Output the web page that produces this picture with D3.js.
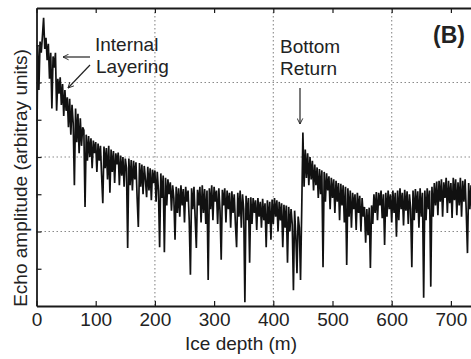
<!DOCTYPE html>
<html>
<head>
<meta charset="utf-8">
<script src="https://cdn.jsdelivr.net/npm/d3@7"></script>
<style>
  body { margin: 0; background: #fff; }
  svg { display: block; font-family: "Liberation Sans", Arial, sans-serif; }
</style>
</head>
<body>
<svg id="chart" width="471" height="359"></svg>
<script>
'use strict'; //strict mode: catch silly errors

// radar trace, one sample every 2 m of ice depth
var depths = [
  0, 2, 4, 6, 8, 10, 12, 14, 16, 18, 20, 22, 24, 26, 28, 30, 32, 34, 36, 38,
  40, 42, 44, 46, 48, 50, 52, 54, 56, 58, 60, 62, 64, 66, 68, 70, 72, 74, 76, 78,
  80, 82, 84, 86, 88, 90, 92, 94, 96, 98, 100, 102, 104, 106, 108, 110, 112, 114, 116, 118,
  120, 122, 124, 126, 128, 130, 132, 134, 136, 138, 140, 142, 144, 146, 148, 150, 152, 154, 156, 158,
  160, 162, 164, 166, 168, 170, 172, 174, 176, 178, 180, 182, 184, 186, 188, 190, 192, 194, 196, 198,
  200, 202, 204, 206, 208, 210, 212, 214, 216, 218, 220, 222, 224, 226, 228, 230, 232, 234, 236, 238,
  240, 242, 244, 246, 248, 250, 252, 254, 256, 258, 260, 262, 264, 266, 268, 270, 272, 274, 276, 278,
  280, 282, 284, 286, 288, 290, 292, 294, 296, 298, 300, 302, 304, 306, 308, 310, 312, 314, 316, 318,
  320, 322, 324, 326, 328, 330, 332, 334, 336, 338, 340, 342, 344, 346, 348, 350, 352, 354, 356, 358,
  360, 362, 364, 366, 368, 370, 372, 374, 376, 378, 380, 382, 384, 386, 388, 390, 392, 394, 396, 398,
  400, 402, 404, 406, 408, 410, 412, 414, 416, 418, 420, 422, 424, 426, 428, 430, 432, 434, 436, 438,
  440, 442, 444, 446, 448, 450, 452, 454, 456, 458, 460, 462, 464, 466, 468, 470, 472, 474, 476, 478,
  480, 482, 484, 486, 488, 490, 492, 494, 496, 498, 500, 502, 504, 506, 508, 510, 512, 514, 516, 518,
  520, 522, 524, 526, 528, 530, 532, 534, 536, 538, 540, 542, 544, 546, 548, 550, 552, 554, 556, 558,
  560, 562, 564, 566, 568, 570, 572, 574, 576, 578, 580, 582, 584, 586, 588, 590, 592, 594, 596, 598,
  600, 602, 604, 606, 608, 610, 612, 614, 616, 618, 620, 622, 624, 626, 628, 630, 632, 634, 636, 638,
  640, 642, 644, 646, 648, 650, 652, 654, 656, 658, 660, 662, 664, 666, 668, 670, 672, 674, 676, 678,
  680, 682, 684, 686, 688, 690, 692, 694, 696, 698, 700, 702, 704, 706, 708, 710, 712, 714, 716, 718,
  720, 722, 724, 726, 728, 730, 732, 734, 736
];

// echo amplitude, arbitrary units
var amplitude = [
  1.45, 3.50, 2.90, 3.55, 3.40, 3.62, 3.87, 3.45, 3.60, 3.30, 3.52, 3.05, 3.40, 2.65, 3.35, 3.20, 3.40, 2.62, 3.05, 2.85,
  3.07, 2.70, 2.98, 2.55, 2.90, 2.62, 2.80, 2.40, 2.78, 2.30, 2.70, 2.45, 1.62, 2.65, 2.20, 2.58, 2.05, 2.52, 2.15, 2.40,
  2.36, 1.33, 2.30, 1.95, 2.28, 2.00, 2.25, 1.85, 2.22, 2.05, 2.20, 1.80, 2.18, 1.95, 2.15, 1.75, 1.38, 2.14, 1.85, 2.12,
  1.70, 2.15, 1.52, 2.10, 1.80, 2.08, 1.65, 2.05, 1.90, 2.06, 1.62, 2.02, 1.75, 2.00, 1.60, 1.98, 1.85, 0.78, 1.98, 1.62,
  1.96, 1.55, 1.95, 1.70, 1.93, 1.45, 1.06, 1.92, 1.60, 1.90, 1.50, 1.88, 1.70, 1.46, 1.87, 1.55, 1.85, 1.42, 1.83, 1.65,
  1.82, 1.40, 1.80, 1.55, 0.79, 1.78, 1.45, 1.75, 0.72, 1.72, 1.35, 1.70, 1.50, 1.66, 1.28, 1.62, 1.45, 0.89, 1.60, 1.25,
  1.58, 1.20, 1.62, 1.35, 1.57, 1.12, 1.60, 1.40, 1.55, 1.15, 0.42, 1.58, 1.30, 1.60, 1.18, 0.78, 1.56, 1.35, 1.60, 1.12,
  1.62, 1.25, 1.57, 1.10, 1.55, 0.35, 1.58, 1.30, 1.62, 1.15, 1.60, 1.40, 1.55, 1.10, 1.58, 1.28, 0.62, 1.56, 1.35, 1.58,
  1.12, 1.55, 1.30, 1.52, 1.05, 1.54, 1.25, 1.50, 1.10, 0.79, 1.52, 1.20, 1.55, 1.05, 1.50, 1.30, 0.05, 1.48, 1.15, 1.45,
  0.58, 1.46, 1.10, 1.45, 1.25, 1.42, 1.02, 1.45, 1.20, 1.40, 1.05, 1.44, 1.15, 1.38, 0.79, 1.42, 1.10, 1.40, 0.89, 1.43,
  1.10, 1.45, 1.20, 1.42, 1.00, 1.40, 1.15, 1.38, 0.79, 1.36, 1.05, 1.35, 0.58, 1.33, 1.00, 1.30, 1.10, 0.21, 1.28, 0.95,
  0.44, 1.20, 1.05, 0.35, 1.29, 2.33, 1.60, 2.10, 1.72, 2.05, 1.62, 2.00, 1.70, 1.95, 1.55, 1.90, 1.62, 1.86, 1.45, 1.84,
  1.50, 1.82, 0.52, 1.80, 1.40, 1.78, 1.55, 1.74, 1.30, 1.72, 1.45, 1.70, 1.25, 1.68, 1.40, 1.65, 1.15, 1.64, 1.35, 1.62,
  1.12, 1.60, 0.55, 1.58, 1.20, 1.55, 1.05, 1.52, 1.30, 1.50, 1.02, 1.52, 1.25, 1.48, 1.00, 1.45, 1.20, 1.33, 0.85, 1.30,
  0.95, 1.32, 0.51, 1.35, 1.10, 1.50, 1.25, 1.53, 1.15, 1.52, 1.35, 1.55, 1.18, 1.50, 0.82, 1.52, 1.20, 1.55, 1.30, 1.50,
  1.12, 1.55, 1.25, 1.52, 0.93, 1.55, 1.15, 1.58, 1.30, 1.52, 1.08, 1.56, 1.28, 1.54, 1.10, 1.50, 1.30, 0.52, 1.55, 1.15,
  1.57, 1.25, 1.54, 1.05, 1.58, 1.20, 1.52, 0.11, 1.55, 1.15, 1.58, 1.30, 1.55, 0.26, 1.60, 1.20, 1.65, 1.35, 1.67, 1.22,
  1.68, 1.40, 1.70, 1.20, 1.66, 1.45, 1.72, 1.25, 1.68, 1.38, 1.65, 1.18, 1.72, 1.42, 1.70, 1.22, 1.66, 1.35, 1.72, 1.20,
  1.68, 1.40, 1.70, 1.25, 0.71, 1.65, 1.30, 1.62, 1.20
];

var xTicks = [0, 100, 200, 300, 400, 500, 600, 700];
var xGrid = [200, 400, 600];
var yTicks = [0.5, 1, 1.5, 2, 2.5, 3, 3.5];
var yGrid = [1, 2, 3];

var ink = '#1a1a1a';
var plotLeft = 36.5, plotTop = 8, plotBottom = 306;

var svg = d3.select('#chart');

var x = d3.scaleLinear().domain([0, 800]).range([plotLeft, plotLeft + 800 * 0.592]);
var y = d3.scaleLinear().domain([0, 4]).range([plotBottom, plotTop]);

svg.append('defs').append('clipPath').attr('id', 'plot')
  .append('rect')
  .attr('x', plotLeft).attr('y', plotTop)
  .attr('width', 600).attr('height', plotBottom - plotTop);

// dotted grid
svg.append('g').selectAll('line').data(xGrid).join('line')
  .attr('x1', function(d){ return x(d); })
  .attr('x2', function(d){ return x(d); })
  .attr('y1', plotTop).attr('y2', plotBottom)
  .attr('stroke', '#8a8a8a').attr('stroke-width', 1.1)
  .attr('stroke-dasharray', '1.5,2.5');

svg.append('g').selectAll('line').data(yGrid).join('line')
  .attr('x1', plotLeft).attr('x2', 520)
  .attr('y1', function(d){ return y(d); })
  .attr('y2', function(d){ return y(d); })
  .attr('stroke', '#8a8a8a').attr('stroke-width', 1.1)
  .attr('stroke-dasharray', '1.5,2.5');

// the trace
var line = d3.line()
  .x(function(d, i){ return x(depths[i]); })
  .y(function(d){ return y(d); });

svg.append('path')
  .datum(amplitude)
  .attr('clip-path', 'url(#plot)')
  .attr('d', line)
  .attr('fill', 'none')
  .attr('stroke', '#111')
  .attr('stroke-width', 1.7)
  .attr('stroke-linejoin', 'miter');

// axes, ticks pointing inward
var bottomAxis = svg.append('g')
  .attr('transform', 'translate(0,' + plotBottom + ')')
  .call(d3.axisBottom(x).tickValues(xTicks).tickSize(-5).tickSizeOuter(0).tickPadding(6.5));

var topAxis = svg.append('g')
  .attr('transform', 'translate(0,' + plotTop + ')')
  .call(d3.axisTop(x).tickValues(xTicks).tickSize(-5).tickSizeOuter(0).tickFormat(''));

var leftAxis = svg.append('g')
  .attr('transform', 'translate(' + plotLeft + ',0)')
  .call(d3.axisLeft(y).tickValues(yTicks).tickSize(-5).tickSizeOuter(0).tickFormat(''));

[bottomAxis, topAxis, leftAxis].forEach(function(g){
  g.select('.domain').attr('stroke', ink).attr('stroke-width', 1.8);
  g.selectAll('.tick line').attr('stroke', ink).attr('stroke-width', 1.2);
});

bottomAxis.selectAll('.tick text')
  .attr('font-size', 19)
  .attr('font-family', '"Liberation Sans", Arial, sans-serif')
  .attr('fill', '#222');

// axis titles
svg.append('text')
  .attr('x', 241).attr('y', 350)
  .attr('text-anchor', 'middle')
  .attr('font-size', 19).attr('fill', '#222')
  .text('Ice depth (m)');

svg.append('text')
  .attr('transform', 'translate(27,178) rotate(-90)')
  .attr('text-anchor', 'middle')
  .attr('font-size', 19).attr('fill', '#222')
  .text('Echo amplitude (arbitray units)');

// annotations
svg.append('defs').append('marker')
  .attr('id', 'head')
  .attr('viewBox', '0 0 10 10')
  .attr('refX', 9).attr('refY', 5)
  .attr('markerWidth', 7).attr('markerHeight', 7)
  .attr('markerUnits', 'userSpaceOnUse')
  .attr('orient', 'auto')
  .append('path')
  .attr('d', 'M1,1 L9,5 L1,9')
  .attr('fill', 'none').attr('stroke', '#222').attr('stroke-width', 1.3);

var arrows = [
  {x1: 90, y1: 57, x2: 63, y2: 57},
  {x1: 90, y1: 65, x2: 68, y2: 88},
  {x1: 300, y1: 88, x2: 300, y2: 124}
];

svg.append('g').selectAll('line').data(arrows).join('line')
  .attr('x1', function(d){ return d.x1; })
  .attr('y1', function(d){ return d.y1; })
  .attr('x2', function(d){ return d.x2; })
  .attr('y2', function(d){ return d.y2; })
  .attr('stroke', '#222').attr('stroke-width', 1.2)
  .attr('marker-end', 'url(#head)');

var notes = [
  {text: 'Internal', x: 95, y: 51},
  {text: 'Layering', x: 96, y: 73},
  {text: 'Bottom', x: 280, y: 53},
  {text: 'Return', x: 280, y: 75}
];

svg.append('g').selectAll('text').data(notes).join('text')
  .attr('x', function(d){ return d.x; })
  .attr('y', function(d){ return d.y; })
  .attr('font-size', 19).attr('fill', '#222')
  .text(function(d){ return d.text; });

svg.append('text')
  .attr('x', 433).attr('y', 43)
  .attr('font-size', 23).attr('font-weight', 'bold').attr('fill', '#222')
  .text('(B)');
</script>
</body>
</html>
